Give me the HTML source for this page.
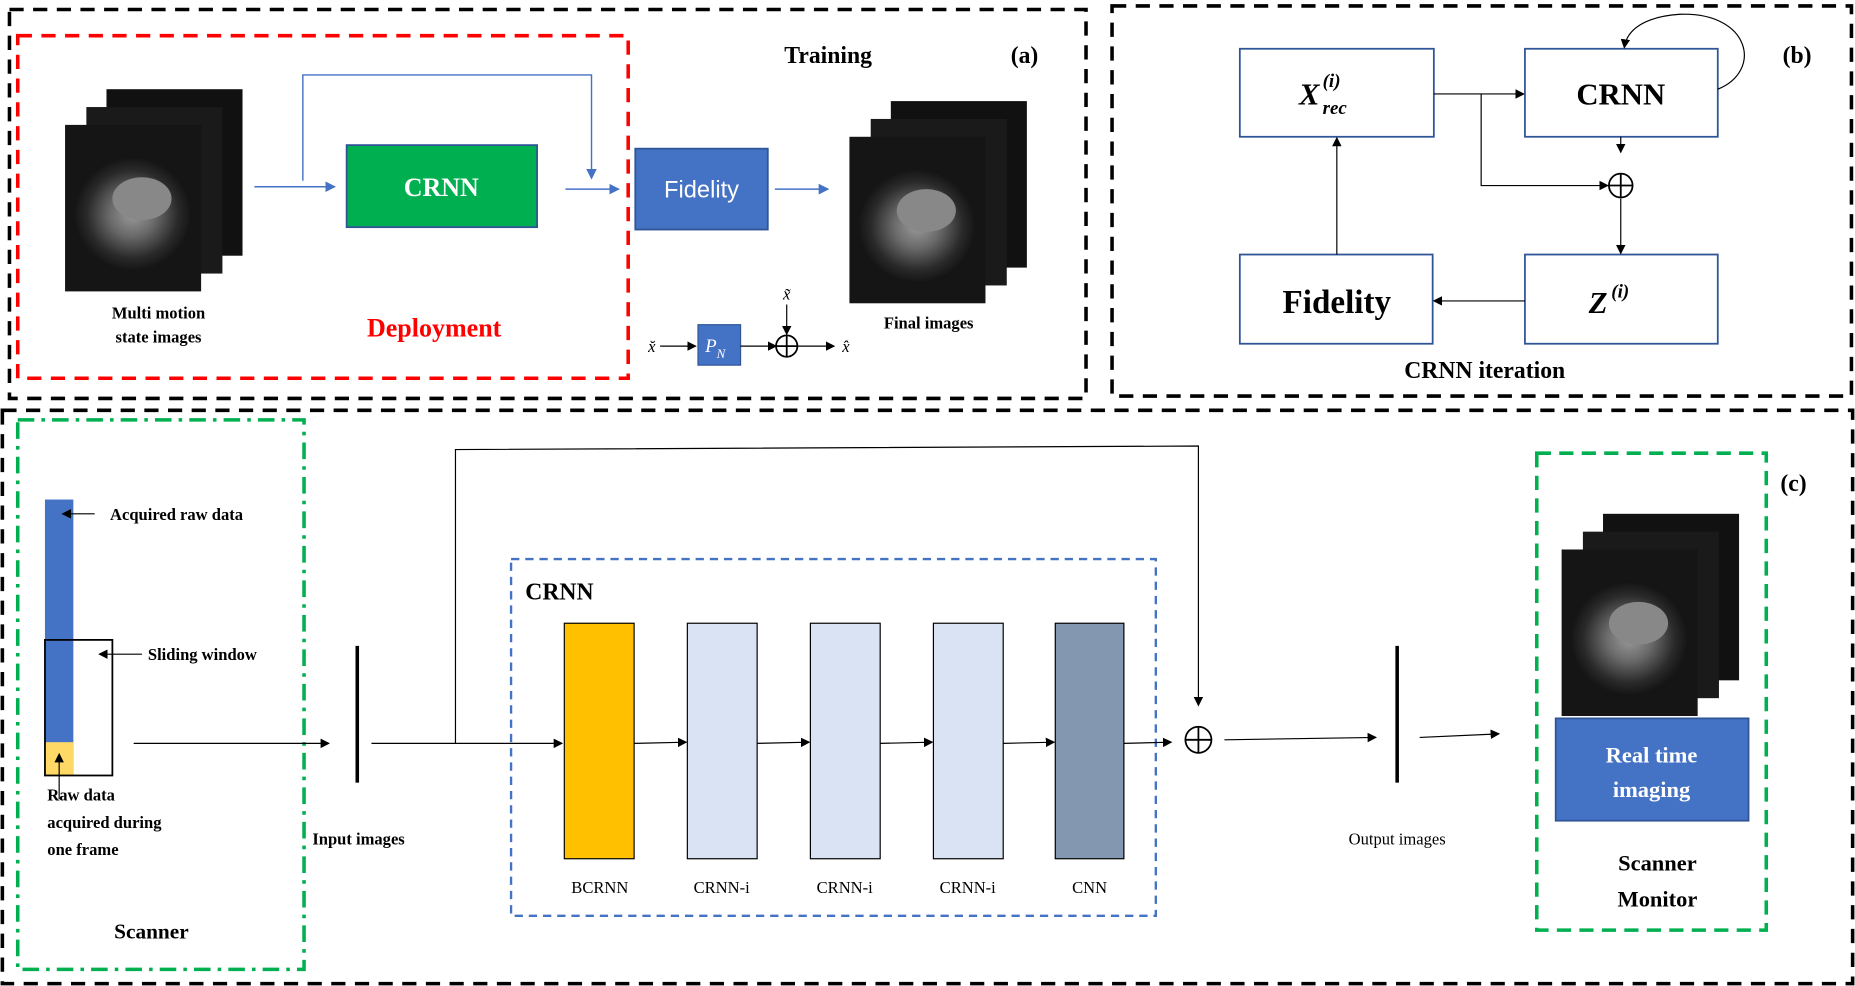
<!DOCTYPE html>
<html><head><meta charset="utf-8"><style>
html,body{margin:0;padding:0;background:#fff;}
svg{display:block;}
text{font-family:"Liberation Serif",serif;}
</style></head><body>
<svg width="1855" height="986" viewBox="0 0 1568 829" preserveAspectRatio="none" xmlns="http://www.w3.org/2000/svg">
<defs>
<marker id="ab" markerWidth="8" markerHeight="8" refX="7" refY="4" orient="auto" markerUnits="userSpaceOnUse"><path d="M0,0 L8,4 L0,8 z" fill="#000"/></marker>
<marker id="ablue" markerWidth="9" markerHeight="9" refX="8" refY="4.5" orient="auto" markerUnits="userSpaceOnUse"><path d="M0,0 L9,4.5 L0,9 z" fill="#4472c4"/></marker>
<radialGradient id="mri" cx="50%" cy="50%" r="55%">
<stop offset="0" stop-color="#9a9a9a"/><stop offset="0.35" stop-color="#6a6a6a"/><stop offset="0.7" stop-color="#2a2a2a"/><stop offset="1" stop-color="#0a0a0a"/></radialGradient>
<g id="stack">
<rect x="35" y="0" width="115" height="140" fill="#111"/>
<rect x="18" y="15" width="115" height="140" fill="#1a1a1a"/>
<rect x="0" y="30" width="115" height="140" fill="#151515"/>
<ellipse cx="57" cy="105" rx="50" ry="48" fill="url(#mri)"/>
<ellipse cx="65" cy="92" rx="25" ry="18" fill="#888"/>
</g>
</defs>

<!-- (a) -->
<rect x="8" y="8" width="910" height="327" fill="none" stroke="#000" stroke-width="3" stroke-dasharray="12,8"/>
<rect x="15" y="30" width="516" height="288" fill="none" stroke="#f00" stroke-width="3" stroke-dasharray="12,8"/>
<use href="#stack" x="55" y="75"/>
<use href="#stack" x="718" y="85"/>
<line x1="215" y1="157" x2="283" y2="157" stroke="#4472c4" stroke-width="1.2" marker-end="url(#ablue)"/>
<rect x="293" y="122" width="161" height="69" fill="#00b050" stroke="#2f5597" stroke-width="1.5"/>
<text x="373" y="165" font-size="22" font-weight="bold" fill="#fff" text-anchor="middle">CRNN</text>
<polyline points="256,152 256,63 500,63 500,150" fill="none" stroke="#4472c4" stroke-width="1.2" marker-end="url(#ablue)"/>
<line x1="478" y1="159" x2="523" y2="159" stroke="#4472c4" stroke-width="1.2" marker-end="url(#ablue)"/>
<rect x="537" y="125" width="112" height="68" fill="#4472c4" stroke="#2f5597" stroke-width="1.5"/>
<text x="593" y="166" font-size="20" fill="#fff" text-anchor="middle" style="font-family:'Liberation Sans',sans-serif">Fidelity</text>
<line x1="655" y1="159" x2="700" y2="159" stroke="#4472c4" stroke-width="1.2" marker-end="url(#ablue)"/>
<text x="700" y="53" font-size="20" font-weight="bold" text-anchor="middle">Training</text>
<text x="866" y="53" font-size="20" font-weight="bold" text-anchor="middle">(a)</text>
<text x="134" y="268" font-size="14" font-weight="bold" text-anchor="middle">Multi motion</text>
<text x="134" y="288" font-size="14" font-weight="bold" text-anchor="middle">state images</text>
<text x="367" y="283" font-size="22" font-weight="bold" fill="#f00" text-anchor="middle">Deployment</text>
<text x="785" y="276" font-size="14" font-weight="bold" text-anchor="middle">Final images</text>
<text x="551" y="296" font-size="14" font-style="italic" text-anchor="middle">x̆</text>
<line x1="558" y1="291" x2="588" y2="291" stroke="#000" marker-end="url(#ab)"/>
<rect x="590" y="273" width="36" height="34" fill="#4472c4" stroke="#2f5597"/>
<text x="596" y="296" font-size="16" font-style="italic" fill="#fff">P<tspan font-size="11" dy="5">N</tspan></text>
<line x1="626" y1="291" x2="656" y2="291" stroke="#000" marker-end="url(#ab)"/>
<circle cx="665" cy="291" r="9" fill="none" stroke="#000" stroke-width="1.5"/>
<line x1="656" y1="291" x2="674" y2="291" stroke="#000" stroke-width="1.5"/>
<line x1="665" y1="282" x2="665" y2="300" stroke="#000" stroke-width="1.5"/>
<text x="665" y="252" font-size="14" font-style="italic" text-anchor="middle">x̃</text>
<line x1="665" y1="256" x2="665" y2="281" stroke="#000" marker-end="url(#ab)"/>
<line x1="674" y1="291" x2="705" y2="291" stroke="#000" marker-end="url(#ab)"/>
<text x="715" y="296" font-size="14" font-style="italic" text-anchor="middle">x̂</text>

<!-- (b) -->
<rect x="940" y="5" width="625" height="328" fill="none" stroke="#000" stroke-width="3" stroke-dasharray="12,8"/>
<g fill="#fff" stroke="#2f5597" stroke-width="1.5">
<rect x="1048" y="41" width="164" height="74"/>
<rect x="1289" y="41" width="163" height="74"/>
<rect x="1048" y="214" width="163" height="75"/>
<rect x="1289" y="214" width="163" height="75"/>
</g>
<text x="1098" y="88" font-size="26" font-weight="bold" font-style="italic">X</text>
<text x="1118" y="73" font-size="16" font-weight="bold" font-style="italic">(i)</text>
<text x="1118" y="96" font-size="16" font-weight="bold" font-style="italic">rec</text>
<text x="1370" y="88" font-size="26" font-weight="bold" text-anchor="middle">CRNN</text>
<text x="1130" y="263" font-size="28" font-weight="bold" text-anchor="middle">Fidelity</text>
<text x="1343" y="263" font-size="26" font-weight="bold" font-style="italic">Z</text>
<text x="1362" y="250" font-size="16" font-weight="bold" font-style="italic">(i)</text>
<g stroke="#000" stroke-width="1" fill="none">
<line x1="1212" y1="79" x2="1288" y2="79" marker-end="url(#ab)"/>
<polyline points="1252,79 1252,156 1359,156" marker-end="url(#ab)"/>
<line x1="1370" y1="115" x2="1370" y2="128" marker-end="url(#ab)"/>
<line x1="1370" y1="167" x2="1370" y2="213" marker-end="url(#ab)"/>
<line x1="1289" y1="253" x2="1212" y2="253" marker-end="url(#ab)"/>
<line x1="1130" y1="214" x2="1130" y2="116" marker-end="url(#ab)"/>
<path d="M1452,75 C1490,60 1480,10 1420,12 C1390,14 1375,25 1373,40" marker-end="url(#ab)"/>
<circle cx="1370" cy="156" r="10" stroke-width="1.5"/>
<line x1="1360" y1="156" x2="1380" y2="156" stroke-width="1.5"/>
<line x1="1370" y1="146" x2="1370" y2="166" stroke-width="1.5"/>
</g>
<text x="1519" y="53" font-size="20" font-weight="bold" text-anchor="middle">(b)</text>
<text x="1255" y="318" font-size="20" font-weight="bold" text-anchor="middle">CRNN iteration</text>

<!-- (c) -->
<rect x="2" y="345" width="1564" height="482" fill="none" stroke="#000" stroke-width="3" stroke-dasharray="12,8"/>
<rect x="15" y="353" width="242" height="462" fill="none" stroke="#00b050" stroke-width="3" stroke-dasharray="14,6,3,6"/>
<rect x="38" y="420" width="24" height="232" fill="#4472c4"/>
<rect x="38" y="624" width="24" height="28" fill="#ffd966"/>
<rect x="38" y="538" width="57" height="114" fill="none" stroke="#000" stroke-width="1.5"/>
<text x="93" y="437" font-size="14" font-weight="bold">Acquired raw data</text>
<line x1="80" y1="432" x2="53" y2="432" stroke="#000" marker-end="url(#ab)"/>
<text x="125" y="555" font-size="14" font-weight="bold">Sliding window</text>
<line x1="120" y1="550" x2="84" y2="550" stroke="#000" marker-end="url(#ab)"/>
<line x1="50" y1="672" x2="50" y2="634" stroke="#000" marker-end="url(#ab)"/>
<text x="40" y="673" font-size="14" font-weight="bold">Raw data</text>
<text x="40" y="696" font-size="14" font-weight="bold">acquired during</text>
<text x="40" y="719" font-size="14" font-weight="bold">one frame</text>
<text x="128" y="789" font-size="18" font-weight="bold" text-anchor="middle">Scanner</text>
<line x1="113" y1="625" x2="278" y2="625" stroke="#000" marker-end="url(#ab)"/>
<line x1="302" y1="543" x2="302" y2="658" stroke="#000" stroke-width="3"/>
<text x="264" y="710" font-size="14" font-weight="bold">Input images</text>
<line x1="314" y1="625" x2="475" y2="625" stroke="#000" marker-end="url(#ab)"/>
<polyline points="385,625 385,378 1013,375 1013,593" fill="none" stroke="#000" marker-end="url(#ab)"/>
<rect x="432" y="470" width="545" height="300" fill="none" stroke="#4472c4" stroke-width="2" stroke-dasharray="7,5"/>
<text x="444" y="504" font-size="20" font-weight="bold">CRNN</text>
<rect x="477" y="524" width="59" height="198" fill="#ffc000" stroke="#000"/>
<rect x="581" y="524" width="59" height="198" fill="#dae3f3" stroke="#000"/>
<rect x="685" y="524" width="59" height="198" fill="#dae3f3" stroke="#000"/>
<rect x="789" y="524" width="59" height="198" fill="#dae3f3" stroke="#000"/>
<rect x="892" y="524" width="58" height="198" fill="#8497b0" stroke="#000"/>
<g stroke="#000" marker-end="url(#ab)">
<line x1="536" y1="625" x2="580" y2="624"/>
<line x1="640" y1="625" x2="684" y2="624"/>
<line x1="744" y1="625" x2="788" y2="624"/>
<line x1="848" y1="625" x2="891" y2="624"/>
<line x1="950" y1="625" x2="990" y2="624"/>
</g>
<g font-size="14" text-anchor="middle">
<text x="507" y="751">BCRNN</text>
<text x="610" y="751">CRNN-i</text>
<text x="714" y="751">CRNN-i</text>
<text x="818" y="751">CRNN-i</text>
<text x="921" y="751">CNN</text>
</g>
<circle cx="1013" cy="622" r="11" fill="none" stroke="#000" stroke-width="1.5"/>
<line x1="1002" y1="622" x2="1024" y2="622" stroke="#000" stroke-width="1.5"/>
<line x1="1013" y1="611" x2="1013" y2="633" stroke="#000" stroke-width="1.5"/>
<line x1="1035" y1="622" x2="1163" y2="620" stroke="#000" marker-end="url(#ab)"/>
<line x1="1181" y1="543" x2="1181" y2="658" stroke="#000" stroke-width="3"/>
<text x="1181" y="710" font-size="14" text-anchor="middle">Output images</text>
<line x1="1200" y1="620" x2="1267" y2="617" stroke="#000" marker-end="url(#ab)"/>
<rect x="1299" y="381" width="194" height="401" fill="none" stroke="#00b050" stroke-width="3" stroke-dasharray="12,7"/>
<use href="#stack" x="1320" y="432"/>
<rect x="1315" y="604" width="163" height="86" fill="#4472c4" stroke="#2f5597" stroke-width="1.5"/>
<text x="1396" y="641" font-size="19" font-weight="bold" fill="#fff" text-anchor="middle">Real time</text>
<text x="1396" y="670" font-size="19" font-weight="bold" fill="#fff" text-anchor="middle">imaging</text>
<text x="1401" y="732" font-size="19" font-weight="bold" text-anchor="middle">Scanner</text>
<text x="1401" y="762" font-size="19" font-weight="bold" text-anchor="middle">Monitor</text>
<text x="1516" y="413" font-size="20" font-weight="bold" text-anchor="middle">(c)</text>
</svg>
</body></html>
